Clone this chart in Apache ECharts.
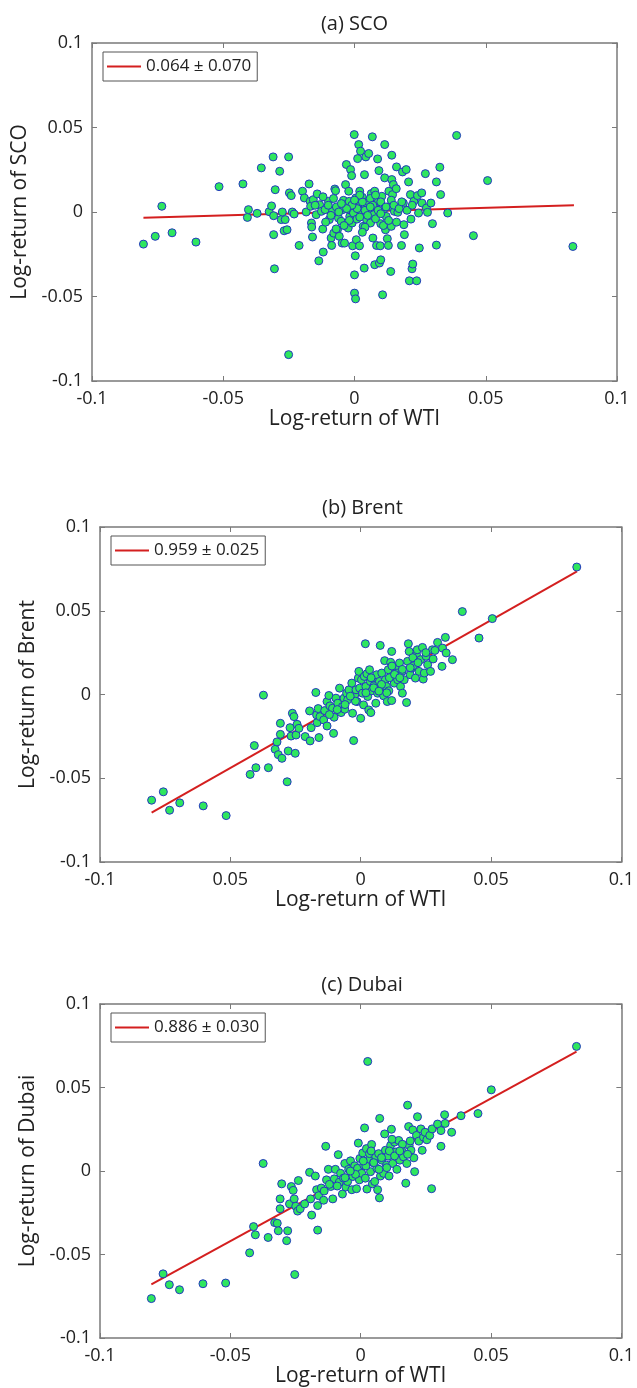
<!DOCTYPE html>
<html>
<head>
<meta charset="utf-8">
<script src="https://cdn.jsdelivr.net/npm/echarts@6/dist/echarts.min.js"></script>
<style>
html,body{margin:0;padding:0;background:#fff;}
#chart{width:637px;height:1388px;}
</style>
</head>
<body>
<div id="chart"></div>
<script>
// ---------------- DATA ----------------
const titles = ['(a) SCO', '(b) Brent', '(c) Dubai'];
const yNames = ['Log-return of SCO', 'Log-return of Brent', 'Log-return of Dubai'];
const xName = 'Log-return of WTI';
const xTicksA = ['-0.1', '-0.05', '0', '0.05', '0.1'];
const xTicksB = ['-0.1', '0.05', '0', '0.05', '0.1'];
const xTicksC = ['-0.1', '-0.05', '0', '0.05', '0.1'];
const yTicks = ['-0.1', '-0.05', '0', '0.05', '0.1'];
const fitLabels = ['0.064 \u00b1 0.070', '0.959 \u00b1 0.025', '0.886 \u00b1 0.030'];

const fitSCO = [[-0.0804, -0.0034], [0.0836, 0.0040]];
const fitBrent = [[-0.0802, -0.0705], [0.0830, 0.0735]];
const fitDubai = [[-0.0803, -0.0679], [0.0828, 0.0715]];

const sco = [
[-0.0804,-0.0190],[-0.0759,-0.0144],[-0.0734,0.0034],[-0.0695,-0.0123],[-0.0604,-0.0178],[-0.0516,0.0150],
[-0.0425,0.0166],[-0.0408,-0.0032],[-0.0404,0.0014],[-0.0371,-0.0008],[-0.0355,0.0261],[-0.0325,0.0002],
[-0.0316,0.0036],[-0.0310,0.0326],[-0.0308,-0.0022],[-0.0308,-0.0134],[-0.0305,-0.0336],[-0.0302,0.0132],
[-0.0285,0.0241],[-0.0279,-0.0045],[-0.0275,0.0000],[-0.0268,-0.0111],[-0.0264,-0.0045],[-0.0257,-0.0105],
[-0.0251,0.0326],[-0.0251,-0.0844],[-0.0248,0.0113],[-0.0241,0.0097],[-0.0237,0.0000],[-0.0230,-0.0012],
[-0.0211,-0.0198],[-0.0198,0.0123],[-0.0191,0.0083],[-0.0184,0.0000],[-0.0173,0.0166],[-0.0169,0.0063],
[-0.0167,0.0034],[-0.0164,-0.0065],[-0.0163,-0.0089],[-0.0160,-0.0148],[-0.0157,0.0073],[-0.0146,-0.0016],
[-0.0142,0.0107],[-0.0136,-0.0289],[-0.0133,0.0043],[-0.0126,0.0004],[-0.0121,-0.0101],[-0.0119,-0.0237],
[-0.0112,0.0014],[-0.0099,0.0063],[-0.0096,-0.0045],[-0.0089,-0.0154],[-0.0087,-0.0198],[-0.0083,0.0010],
[-0.0079,-0.0125],[-0.0075,0.0136],[-0.0072,0.0126],[-0.0069,0.0030],[-0.0065,-0.0105],[-0.0061,-0.0036],
[-0.0058,-0.0144],[-0.0051,-0.0055],[-0.0047,-0.0184],[-0.0045,0.0014],[-0.0042,0.0069],[-0.0038,-0.0184],
[-0.0034,0.0162],[-0.0031,0.0281],[-0.0028,0.0043],[-0.0024,-0.0095],[-0.0022,0.0123],[-0.0020,0.0063],
[-0.0018,-0.0026],[-0.0015,0.0251],[-0.0014,0.0010],[-0.0011,0.0215],[-0.0009,-0.0065],[-0.0007,-0.0200],
[-0.0004,-0.0006],[-0.0001,0.0458],[0.0000,-0.0372],[0.0000,-0.0480],[0.0003,-0.0259],[0.0004,-0.0514],
[0.0005,0.0083],[0.0007,-0.0164],[0.0009,-0.0042],[0.0012,0.0316],[0.0014,0.0034],[0.0016,0.0399],
[0.0019,-0.0200],[0.0020,0.0123],[0.0023,0.0360],[0.0023,0.0053],[0.0026,-0.0006],[0.0030,0.0087],
[0.0033,-0.0085],[0.0037,-0.0332],[0.0038,0.0221],[0.0041,0.0030],[0.0043,0.0326],[0.0046,-0.0045],
[0.0050,0.0063],[0.0054,0.0346],[0.0057,0.0014],[0.0061,-0.0065],[0.0064,0.0109],[0.0068,0.0445],
[0.0070,-0.0154],[0.0073,-0.0016],[0.0077,0.0123],[0.0077,-0.0312],[0.0081,0.0043],[0.0084,-0.0198],
[0.0088,0.0314],[0.0091,0.0063],[0.0093,0.0245],[0.0095,-0.0302],[0.0098,-0.0200],[0.0100,-0.0283],
[0.0100,-0.0069],[0.0104,0.0093],[0.0107,-0.0490],[0.0111,0.0014],[0.0115,0.0399],[0.0115,0.0202],
[0.0118,-0.0105],[0.0121,-0.0026],[0.0125,-0.0158],[0.0129,-0.0198],[0.0131,0.0123],[0.0136,0.0034],
[0.0138,-0.0352],[0.0140,-0.0085],[0.0142,0.0336],[0.0142,0.0192],[0.0145,0.0103],[0.0148,0.0162],
[0.0152,0.0004],[0.0159,0.0138],[0.0160,0.0267],[0.0165,-0.0002],[0.0179,-0.0198],[0.0183,0.0237],
[0.0186,0.0053],[0.0188,-0.0075],[0.0190,-0.0134],[0.0197,0.0251],[0.0206,0.0178],[0.0209,-0.0407],
[0.0213,0.0103],[0.0215,-0.0042],[0.0219,-0.0336],[0.0222,-0.0308],[0.0226,0.0063],[0.0237,-0.0407],
[0.0240,0.0097],[0.0244,-0.0006],[0.0247,-0.0213],[0.0256,0.0113],[0.0257,0.0053],[0.0270,0.0227],
[0.0274,0.0024],[0.0278,-0.0002],[0.0291,0.0053],[0.0297,-0.0069],[0.0312,0.0178],[0.0312,-0.0196],
[0.0325,0.0265],[0.0328,0.0103],[0.0355,-0.0006],[0.0389,0.0453],[0.0453,-0.0140],[0.0507,0.0186],
[0.0832,-0.0204],
[0.0010,0.0020],[0.0020,-0.0030],[0.0030,0.0060],[0.0040,0.0010],[0.0050,-0.0020],[0.0060,0.0080],
[0.0070,0.0040],[0.0080,-0.0040],[0.0090,0.0010],[0.0100,0.0060],[0.0110,-0.0080],[0.0120,0.0030],
[0.0130,-0.0050],[0.0140,0.0070],[-0.0010,0.0040],[-0.0020,-0.0050],[-0.0030,0.0020],[-0.0040,-0.0080],
[-0.0050,0.0050],[-0.0060,0.0000],[-0.0070,-0.0100],[-0.0080,0.0080],[-0.0090,-0.0020],[-0.0100,0.0040],
[-0.0110,-0.0060],[0.0020,0.0100],[0.0040,-0.0090],[0.0060,0.0030],[0.0080,0.0100],[0.0100,-0.0010],
[0.0150,0.0040],[0.0160,-0.0060],[0.0170,0.0020],[0.0180,0.0060],[0.0200,0.0010],[0.0220,0.0040],
[-0.0120,0.0090],[-0.0150,0.0040],[0.0000,0.0070],[0.0030,-0.0120]
];

const brent = [
[-0.0802,-0.0631],[-0.0757,-0.0581],[-0.0733,-0.0691],[-0.0694,-0.0647],[-0.0604,-0.0665],[-0.0516,-0.0723],
[-0.0424,-0.0477],[-0.0408,-0.0305],[-0.0402,-0.0437],[-0.0373,-0.0004],[-0.0354,-0.0437],[-0.0328,-0.0327],
[-0.0321,-0.0283],[-0.0316,-0.0359],[-0.0308,-0.0172],[-0.0308,-0.0238],[-0.0302,-0.0381],[-0.0282,-0.0521],
[-0.0278,-0.0337],[-0.0271,-0.0198],[-0.0267,-0.0248],[-0.0262,-0.0112],[-0.0256,-0.0132],[-0.0251,-0.0351],
[-0.0248,-0.0242],[-0.0244,-0.0178],[-0.0237,-0.0202],[-0.0213,-0.0251],[-0.0196,-0.0098],[-0.0194,-0.0277],
[-0.0190,-0.0198],[-0.0172,0.0012],[-0.0169,-0.0122],[-0.0167,-0.0168],[-0.0163,-0.0084],[-0.0160,-0.0257],
[-0.0156,-0.0132],[-0.0142,-0.0152],[-0.0138,-0.0096],[-0.0129,-0.0188],[-0.0129,-0.0042],[-0.0122,-0.0006],
[-0.0118,-0.0068],[-0.0108,-0.0082],[-0.0104,-0.0232],[-0.0102,-0.0136],[-0.0095,-0.0022],[-0.0088,-0.0052],
[-0.0081,0.0038],[-0.0075,-0.0108],[-0.0070,-0.0072],[-0.0064,-0.0022],[-0.0061,-0.0088],[-0.0054,0.0008],
[-0.0050,-0.0032],[-0.0045,0.0028],[-0.0034,0.0068],[-0.0031,-0.0112],[-0.0027,-0.0275],[-0.0023,-0.0002],
[-0.0018,0.0028],[-0.0014,-0.0042],[-0.0009,0.0098],[-0.0007,0.0138],[-0.0004,0.0038],[0.0000,-0.0142],
[0.0003,0.0088],[0.0007,0.0008],[0.0011,-0.0062],[0.0014,0.0108],[0.0018,0.0303],[0.0020,0.0048],
[0.0024,0.0124],[0.0027,-0.0012],[0.0031,-0.0092],[0.0034,0.0148],[0.0037,0.0078],[0.0039,-0.0108],
[0.0043,0.0022],[0.0047,0.0098],[0.0051,0.0052],[0.0058,-0.0052],[0.0061,0.0118],[0.0065,0.0008],
[0.0072,0.0078],[0.0075,0.0293],[0.0077,0.0038],[0.0081,0.0128],[0.0088,-0.0008],[0.0092,0.0202],
[0.0095,0.0088],[0.0099,0.0048],[0.0102,-0.0042],[0.0106,0.0148],[0.0108,0.0022],[0.0115,0.0192],
[0.0119,0.0257],[0.0119,-0.0036],[0.0122,0.0108],[0.0129,0.0068],[0.0133,0.0158],[0.0140,0.0128],
[0.0142,0.0088],[0.0149,0.0188],[0.0153,0.0048],[0.0159,0.0138],[0.0160,0.0008],[0.0167,0.0088],
[0.0176,-0.0048],[0.0180,0.0198],[0.0183,0.0303],[0.0186,0.0257],[0.0190,0.0118],[0.0196,0.0158],
[0.0203,0.0172],[0.0210,0.0098],[0.0214,0.0238],[0.0217,0.0267],[0.0224,0.0138],[0.0230,0.0208],
[0.0237,0.0281],[0.0240,0.0092],[0.0244,0.0128],[0.0251,0.0228],[0.0257,0.0178],[0.0268,0.0138],
[0.0275,0.0267],[0.0278,0.0212],[0.0285,0.0263],[0.0295,0.0311],[0.0312,0.0168],[0.0314,0.0277],
[0.0325,0.0341],[0.0328,0.0248],[0.0352,0.0208],[0.0390,0.0495],[0.0454,0.0337],[0.0505,0.0453],
[0.0829,0.0761],
[0.0020,0.0010],[0.0050,0.0040],[0.0080,0.0060],[0.0110,0.0100],[0.0130,0.0120],[-0.0020,-0.0040],
[-0.0060,-0.0060],[-0.0090,-0.0090],[0.0160,0.0150],[0.0190,0.0160],[0.0040,0.0100],[0.0100,0.0010],
[-0.0040,-0.0010],[0.0150,0.0100],[0.0070,0.0020],[0.0120,0.0170],[0.0200,0.0220],[0.0220,0.0190],
[0.0250,0.0250],[-0.0120,-0.0120]
];

const dubai = [
[-0.0803,-0.0764],[-0.0758,-0.0616],[-0.0734,-0.0681],[-0.0695,-0.0711],[-0.0605,-0.0675],[-0.0518,-0.0671],
[-0.0426,-0.0490],[-0.0411,-0.0333],[-0.0404,-0.0382],[-0.0374,0.0045],[-0.0355,-0.0398],[-0.0330,-0.0309],
[-0.0320,-0.0313],[-0.0316,-0.0358],[-0.0309,-0.0167],[-0.0309,-0.0226],[-0.0303,-0.0077],[-0.0284,-0.0417],
[-0.0280,-0.0358],[-0.0273,-0.0197],[-0.0266,-0.0093],[-0.0259,-0.0116],[-0.0255,-0.0167],[-0.0253,-0.0620],
[-0.0249,-0.0211],[-0.0242,-0.0240],[-0.0239,-0.0057],[-0.0232,-0.0226],[-0.0215,-0.0197],[-0.0196,-0.0008],
[-0.0192,-0.0167],[-0.0188,-0.0264],[-0.0174,-0.0030],[-0.0169,-0.0112],[-0.0165,-0.0354],[-0.0165,-0.0207],
[-0.0161,-0.0148],[-0.0151,-0.0102],[-0.0142,-0.0175],[-0.0134,0.0148],[-0.0131,-0.0053],[-0.0124,0.0010],
[-0.0115,-0.0093],[-0.0107,-0.0167],[-0.0101,-0.0047],[-0.0097,0.0010],[-0.0086,0.0098],[-0.0082,-0.0067],
[-0.0077,-0.0014],[-0.0070,-0.0138],[-0.0066,-0.0043],[-0.0061,0.0045],[-0.0057,-0.0096],[-0.0050,-0.0063],
[-0.0046,0.0010],[-0.0039,0.0061],[-0.0034,-0.0112],[-0.0030,-0.0033],[-0.0023,0.0031],[-0.0016,-0.0106],
[-0.0012,0.0016],[-0.0009,0.0167],[-0.0005,-0.0053],[-0.0003,0.0075],[0.0004,-0.0014],[0.0008,0.0108],
[0.0012,0.0035],[0.0015,0.0258],[0.0018,-0.0043],[0.0022,0.0134],[0.0024,-0.0108],[0.0027,0.0656],
[0.0031,0.0065],[0.0034,0.0104],[0.0038,-0.0004],[0.0042,0.0159],[0.0045,-0.0077],[0.0049,0.0049],
[0.0054,-0.0063],[0.0058,0.0085],[0.0062,0.0016],[0.0065,-0.0112],[0.0069,0.0104],[0.0072,-0.0161],
[0.0073,0.0315],[0.0076,-0.0030],[0.0081,0.0065],[0.0088,-0.0014],[0.0092,0.0222],[0.0095,0.0124],
[0.0099,0.0035],[0.0105,0.0089],[0.0109,-0.0030],[0.0115,0.0154],[0.0118,0.0250],[0.0123,0.0045],
[0.0130,0.0173],[0.0135,0.0114],[0.0139,0.0010],[0.0146,0.0183],[0.0150,0.0065],[0.0157,0.0124],
[0.0164,0.0085],[0.0173,-0.0073],[0.0177,0.0045],[0.0180,0.0394],[0.0184,0.0266],[0.0186,0.0154],
[0.0193,0.0124],[0.0200,0.0246],[0.0204,0.0079],[0.0207,-0.0004],[0.0214,0.0213],[0.0218,0.0325],
[0.0223,0.0179],[0.0231,0.0252],[0.0236,0.0124],[0.0241,0.0203],[0.0247,0.0232],[0.0254,0.0187],
[0.0265,0.0213],[0.0272,-0.0106],[0.0274,0.0252],[0.0295,0.0281],[0.0308,0.0242],[0.0308,0.0148],
[0.0322,0.0337],[0.0324,0.0285],[0.0349,0.0232],[0.0385,0.0331],[0.0450,0.0344],[0.0501,0.0486],
[0.0828,0.0746],
[0.0020,0.0030],[0.0050,0.0050],[0.0080,0.0080],[0.0110,0.0120],[0.0130,0.0090],[-0.0020,-0.0020],
[-0.0060,-0.0040],[-0.0090,-0.0090],[0.0160,0.0160],[0.0190,0.0180],[0.0040,0.0120],[0.0100,0.0020],
[-0.0040,0.0000],[0.0150,0.0120],[0.0070,0.0010],[0.0120,0.0190],[-0.0140,-0.0120],[-0.0120,-0.0080],
[0.0180,0.0100],[0.0010,0.0060]
];

// ---------------- CHART ----------------
const FONT = '"Open Sans", "Noto Sans", sans-serif';
const TXT = '#222222';
const AX = '#7a7a7a';
const panels = [
  {pts: sco, fit: fitSCO, xt: xTicksA, g: {left: 92, top: 43, width: 525, height: 338}},
  {pts: brent, fit: fitBrent, xt: xTicksB, g: {left: 100, top: 527, width: 525, height: 335}},
  {pts: dubai, fit: fitDubai, xt: xTicksC, g: {left: 100, top: 1004, width: 524, height: 339}}
];
const tickIdx = v => Math.round(v / 0.05) + 2;

const option = {
  animation: false, backgroundColor: '#ffffff',
  title: [], legend: [], grid: [], xAxis: [], yAxis: [], series: []
};

panels.forEach((p, i) => {
  const g = p.g;
  option.grid.push({left: g.left, top: g.top, width: g.width, height: g.height, show: false, containLabel: false});
  option.title.push({
    text: titles[i], left: g.left + g.width / 2, top: g.top - 29, textAlign: 'center', padding: 0,
    textStyle: {fontFamily: FONT, fontSize: 20, fontWeight: 'normal', color: TXT}
  });
  const common = {
    gridIndex: i, type: 'value', min: -0.1, max: 0.1, interval: 0.05,
    axisLine: {show: true, onZero: false, lineStyle: {color: AX, width: 1.5}},
    axisTick: {show: true, inside: true, length: 5, lineStyle: {color: AX, width: 1}},
    splitLine: {show: false}
  };
  option.xAxis.push(Object.assign({}, common, {
    position: 'bottom',
    axisLabel: {show: true, formatter: v => p.xt[tickIdx(v)], fontFamily: FONT, fontSize: 18, color: TXT, margin: 9, showMinLabel: true, showMaxLabel: true},
    name: xName, nameLocation: 'middle', nameGap: 28,
    nameTextStyle: {fontFamily: FONT, fontSize: 21, color: TXT}
  }));
  option.xAxis.push(Object.assign({}, common, {position: 'top', axisLabel: {show: false}}));
  option.yAxis.push(Object.assign({}, common, {
    position: 'left',
    axisLabel: {show: true, formatter: v => yTicks[tickIdx(v)], fontFamily: FONT, fontSize: 18, color: TXT, margin: 9, showMinLabel: true, showMaxLabel: true},
    name: yNames[i], nameLocation: 'middle', nameGap: 59, nameRotate: 90,
    nameTextStyle: {fontFamily: FONT, fontSize: 21, color: TXT}
  }));
  option.yAxis.push(Object.assign({}, common, {position: 'right', axisLabel: {show: false}}));

  option.series.push({
    name: fitLabels[i], type: 'line', xAxisIndex: 2 * i, yAxisIndex: 2 * i,
    data: p.fit, symbol: 'none', z: 2, silent: true,
    lineStyle: {color: '#d41f1f', width: 2}, itemStyle: {color: '#d41f1f'}
  });
  option.series.push({
    type: 'scatter', xAxisIndex: 2 * i, yAxisIndex: 2 * i, data: p.pts,
    symbol: 'circle', symbolSize: 8, z: 3, silent: true,
    itemStyle: {color: '#2ee65e', borderColor: '#2436c0', borderWidth: 1, opacity: 1}
  });
  option.legend.push({
    data: [fitLabels[i]], left: g.left + 11, top: g.top + 9, orient: 'vertical',
    icon: 'rect', itemWidth: 34, itemHeight: 2, selectedMode: false,
    backgroundColor: '#ffffff', borderColor: '#555555', borderWidth: 1, borderRadius: 0,
    padding: [5, 6, 5, 4],
    textStyle: {fontFamily: FONT, fontSize: 17, color: TXT, lineHeight: 19}
  });
});

const chart = echarts.init(document.getElementById('chart'), null, {renderer: 'canvas', width: 637, height: 1388});
chart.setOption(option);
</script>
</body>
</html>
